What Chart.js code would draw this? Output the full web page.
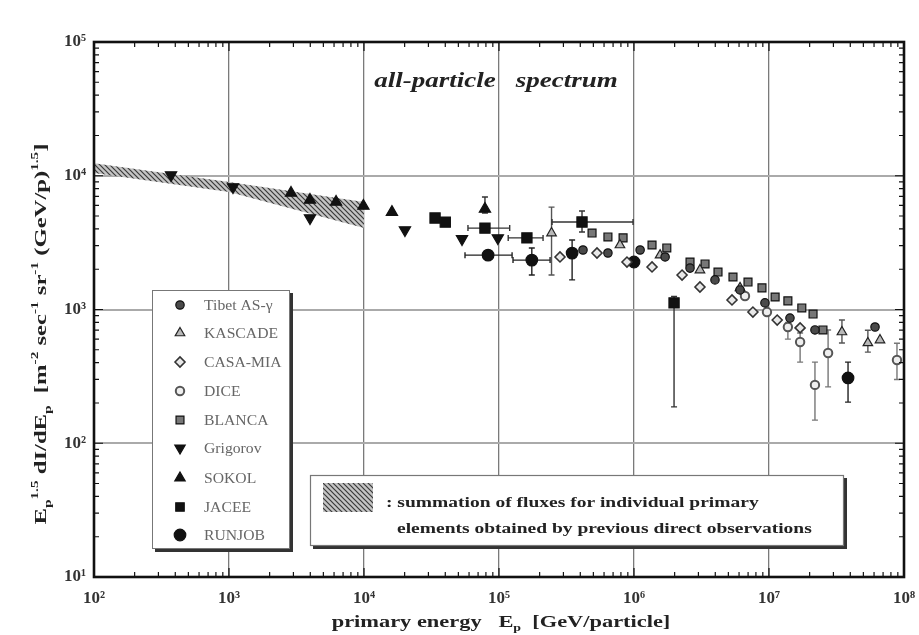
<!DOCTYPE html>
<html>
<head>
<meta charset="utf-8">
<script src="https://cdn.jsdelivr.net/npm/chart.js@4.4.1/dist/chart.umd.min.js"></script>
<style>
html, body { margin: 0; padding: 0; background: #fff; }
#wrap { width: 919px; height: 635px; }
</style>
</head>
<body>
<div id="wrap"><canvas id="chart" width="919" height="635"></canvas></div>
<script>
// Axis ticks
const xTickVals = [1e2, 1e3, 1e4, 1e5, 1e6, 1e7, 1e8];
const yTickVals = [1e1, 1e2, 1e3, 1e4, 1e5];

// Shaded band (sum of direct observations)
const bandE = [100, 1000, 10000];
const bandHi = [12400, 8980, 6370];
const bandLo = [10500, 7570, 4070];

// Tibet AS-gamma
const tibetE = [4.19e5, 6.41e5, 1.11e6, 1.70e6, 2.60e6, 3.98e6, 6.10e6, 9.33e6, 1.43e7, 2.19e7, 6.1e7];
const tibetF = [2785, 2645, 2785, 2470, 2040, 1665, 1400, 1120, 863, 703, 740];

// KASCADE
const kascadeE = [2.45e5, 7.87e5, 1.56e6, 3.08e6, 6.10e6, 3.47e7, 5.4e7, 6.64e7];
const kascadeF = [3730, 3035, 2550, 1972, 1450, 679, 562, 591];
const kascadeFlo = [1810, null, null, null, null, 562, 480, null];
const kascadeFhi = [5830, null, null, null, null, 835, 700, null];

// CASA-MIA
const casaE = [2.83e5, 5.32e5, 8.87e5, 1.36e6, 2.27e6, 3.08e6, 5.32e6, 7.6e6, 1.15e7, 1.7e7];
const casaF = [2470, 2645, 2265, 2080, 1810, 1473, 1178, 957, 834, 728];

// DICE
const diceE = [6.64e6, 9.66e6, 1.38e7, 1.7e7, 2.19e7, 2.74e7, 8.87e7];
const diceF = [1262, 957, 740, 572, 273, 473, 419];
const diceFlo = [null, null, 600, 404, 149, 264, 300];
const diceFhi = [null, null, 800, 667, 404, 703, 560];

// BLANCA
const blancaE = [4.89e5, 6.41e5, 8.3e5, 1.36e6, 1.75e6, 2.6e6, 3.36e6, 4.19e6, 5.41e6, 6.99e6, 8.87e6, 1.11e7, 1.38e7, 1.75e7, 2.12e7, 2.51e7];
const blancaF = [3730, 3485, 3430, 3035, 2885, 2265, 2190, 1905, 1750, 1605, 1450, 1240, 1160, 1027, 925, 703];

// Grigorov
const grigorovE = [372, 1070, 3980, 20100, 53200, 98000];
const grigorovF = [10130, 8240, 4830, 3930, 3370, 3420];

// SOKOL
const sokolE = [2880, 3980, 6210, 9900, 16100, 78700];
const sokolF = [7430, 6590, 6370, 5940, 5350, 5640];
const sokolFlo = [null, null, null, null, null, 5260];
const sokolFhi = [null, null, null, null, null, 6930];

// JACEE
const jaceeE = [33600, 40000, 78700, 161000, 412000, 1.98e6];
const jaceeF = [4830, 4500, 4060, 3430, 4510, 1120];
const jaceeElo = [null, null, 58900, 117000, 247000, null];
const jaceeEhi = [null, null, 120000, 212000, 984000, null];
const jaceeFlo = [null, null, null, null, 3800, 187];
const jaceeFhi = [null, null, null, null, 5450, 1250];

// RUNJOB
const runjobE = [83000, 175000, 348000, 1.0e6, 3.85e7];
const runjobF = [2550, 2340, 2640, 2265, 308];
const runjobElo = [56000, 127000, null, null, null];
const runjobEhi = [125000, 239000, null, null, null];
const runjobFlo = [null, 1810, 1665, null, 203];
const runjobFhi = [null, 2885, 3310, null, 404];

const SERIF = '"Liberation Serif", "DejaVu Serif", serif';
const SUP = '⁰¹²³⁴⁵⁶⁷⁸⁹';

function pts(E, F) {
    return E.map((e, i) => ({ x: e, y: F[i] }));
}

function supLabel(v) {
    const e = Math.round(Math.log10(v));
    return '10' + String(e).split('').map(d => SUP[+d]).join('');
}

// Hatch pattern for the band
function makeHatch() {
    const c = document.createElement('canvas');
    c.width = 5; c.height = 5;
    const g = c.getContext('2d');
    g.fillStyle = '#c4c4c4';
    g.fillRect(0, 0, 5, 5);
    g.strokeStyle = '#3a3a3a';
    g.lineWidth = 1.2;
    g.beginPath();
    g.moveTo(0, 0); g.lineTo(5, 5);
    g.moveTo(-1, 4); g.lineTo(1, 6);
    g.moveTo(4, -1); g.lineTo(6, 1);
    g.stroke();
    return g.createPattern(c, 'repeat');
}
const hatch = makeHatch();

function series(label, E, F, style, err) {
    return Object.assign({
        label: label,
        data: pts(E, F),
        showLine: false,
        pointBorderWidth: 1.2,
        pointHoverRadius: 0,
        err: err || null,
        order: 0
    }, style);
}

const datasets = [
    series('Tibet AS-γ', tibetE, tibetF, { pointStyle: 'circle', pointRadius: 4.2, pointBackgroundColor: '#4a4a4a', pointBorderColor: '#111' }),
    series('KASCADE', kascadeE, kascadeF, { pointStyle: 'triangle', pointRadius: 5.5, pointBackgroundColor: '#b8b8b8', pointBorderColor: '#222' },
        { flo: kascadeFlo, fhi: kascadeFhi, color: '#555' }),
    series('CASA-MIA', casaE, casaF, { pointStyle: 'rectRot', pointRadius: 5, pointBackgroundColor: '#e8e8e8', pointBorderColor: '#333', pointBorderWidth: 1.6 }),
    series('DICE', diceE, diceF, { pointStyle: 'circle', pointRadius: 4.2, pointBackgroundColor: '#eee', pointBorderColor: '#555', pointBorderWidth: 2 },
        { flo: diceFlo, fhi: diceFhi, color: '#777' }),
    series('BLANCA', blancaE, blancaF, { pointStyle: 'rect', pointRadius: 5.6, pointBackgroundColor: '#777', pointBorderColor: '#111' }),
    series('Grigorov', grigorovE, grigorovF, { pointStyle: 'triangle', pointRotation: 180, pointRadius: 6.5, pointBackgroundColor: '#111', pointBorderColor: '#111' }),
    series('SOKOL', sokolE, sokolF, { pointStyle: 'triangle', pointRadius: 6.5, pointBackgroundColor: '#111', pointBorderColor: '#111' },
        { flo: sokolFlo, fhi: sokolFhi, color: '#333' }),
    series('JACEE', jaceeE, jaceeF, { pointStyle: 'rect', pointRadius: 7.2, pointBackgroundColor: '#111', pointBorderColor: '#111' },
        { flo: jaceeFlo, fhi: jaceeFhi, elo: jaceeElo, ehi: jaceeEhi, color: '#333' }),
    series('RUNJOB', runjobE, runjobF, { pointStyle: 'circle', pointRadius: 5.8, pointBackgroundColor: '#111', pointBorderColor: '#111' },
        { flo: runjobFlo, fhi: runjobFhi, elo: runjobElo, ehi: runjobEhi, color: '#222' }),
    {
        label: 'bandHi', data: pts(bandE, bandHi), showLine: true, fill: '+1',
        backgroundColor: hatch, borderWidth: 0, borderColor: 'transparent', pointRadius: 0, order: 10, band: true
    },
    {
        label: 'bandLo', data: pts(bandE, bandLo), showLine: true, fill: false,
        borderWidth: 0, borderColor: 'transparent', pointRadius: 0, order: 10, band: true
    }
];

// Text helper with super/subscripts; sx stretches the text horizontally
function drawRich(ctx, parts, x, y, size, opts) {
    opts = opts || {};
    const style = opts.style || 'bold';
    const sx = opts.sx || 1;
    const font = s => `${style} ${s}px ${SERIF}`;
    let w = 0;
    parts.forEach(([t, k]) => { ctx.font = font(k ? size * 0.62 : size); w += ctx.measureText(t).width; });
    ctx.save();
    ctx.translate(x, y);
    ctx.scale(sx, 1);
    let cx = opts.center ? -w / 2 : 0;
    ctx.textBaseline = 'alphabetic';
    ctx.textAlign = 'left';
    parts.forEach(([t, k]) => {
        const s = k ? size * 0.62 : size;
        ctx.font = font(s);
        const dy = k === 'sup' ? -size * 0.45 : (k === 'sub' ? size * 0.28 : 0);
        ctx.fillText(t, cx, dy);
        cx += ctx.measureText(t).width;
    });
    ctx.restore();
}

const errorBars = {
    id: 'errorBars',
    beforeDatasetsDraw(chart) {
        const { ctx, scales: { x, y } } = chart;
        chart.data.datasets.forEach(ds => {
            if (!ds.err) return;
            const e = ds.err;
            ctx.save();
            ctx.strokeStyle = e.color;
            ctx.lineWidth = 1.4;
            ds.data.forEach((p, j) => {
                const px = x.getPixelForValue(p.x);
                const py = y.getPixelForValue(p.y);
                ctx.beginPath();
                if (e.flo && e.flo[j] != null) {
                    const y1 = y.getPixelForValue(e.flo[j]);
                    const y2 = y.getPixelForValue(e.fhi[j]);
                    ctx.moveTo(px, y1); ctx.lineTo(px, y2);
                    ctx.moveTo(px - 3, y1); ctx.lineTo(px + 3, y1);
                    ctx.moveTo(px - 3, y2); ctx.lineTo(px + 3, y2);
                }
                if (e.elo && e.elo[j] != null) {
                    const x1 = x.getPixelForValue(e.elo[j]);
                    const x2 = x.getPixelForValue(e.ehi[j]);
                    ctx.moveTo(x1, py); ctx.lineTo(x2, py);
                    ctx.moveTo(x1, py - 3); ctx.lineTo(x1, py + 3);
                    ctx.moveTo(x2, py - 3); ctx.lineTo(x2, py + 3);
                }
                ctx.stroke();
            });
            ctx.restore();
        });
    }
};

const decorations = {
    id: 'decorations',
    afterDraw(chart) {
        const { ctx, chartArea: a, scales: { x, y } } = chart;
        ctx.save();

        // inside minor/major ticks on all four sides
        ctx.strokeStyle = '#111';
        ctx.lineWidth = 1.2;
        ctx.beginPath();
        for (let e = 2; e < 8; e++) {
            for (let m = 1; m <= 9; m++) {
                const px = x.getPixelForValue(m * Math.pow(10, e));
                const len = m === 1 ? 9 : 5;
                ctx.moveTo(px, a.bottom); ctx.lineTo(px, a.bottom - len);
                ctx.moveTo(px, a.top); ctx.lineTo(px, a.top + len);
            }
        }
        for (let e = 1; e < 5; e++) {
            for (let m = 1; m <= 9; m++) {
                const py = y.getPixelForValue(m * Math.pow(10, e));
                const len = m === 1 ? 9 : 5;
                ctx.moveTo(a.left, py); ctx.lineTo(a.left + len, py);
                ctx.moveTo(a.right, py); ctx.lineTo(a.right - len, py);
            }
        }
        ctx.stroke();

        // frame
        ctx.lineWidth = 2.6;
        ctx.strokeStyle = '#111';
        ctx.strokeRect(a.left, a.top, a.right - a.left, a.bottom - a.top);

        // title
        ctx.fillStyle = '#222';
        drawRich(ctx, [['all-particle   spectrum', '']], 496, 87, 20, { center: true, style: 'italic bold', sx: 1.35 });

        // x axis title
        drawRich(ctx, [['primary energy   E', ''], ['p', 'sub'], ['  [GeV/particle]', '']], 501, 627, 16, { center: true, sx: 1.4 });

        // y axis title (rotated)
        ctx.save();
        ctx.translate(46, 334);
        ctx.rotate(-Math.PI / 2);
        drawRich(ctx, [
            ['E', ''], ['p', 'sub'], ['1.5', 'sup'], [' dI/dE', ''], ['p', 'sub'],
            ['  [m', ''], ['-2', 'sup'], [' sec', ''], ['-1', 'sup'], [' sr', ''], ['-1', 'sup'],
            [' (GeV/p)', ''], ['1.5', 'sup'], [']', '']
        ], 0, 0, 17, { center: true, sx: 1.45 });
        ctx.restore();

        // legend box of experiments
        const lx = 152, ly = 290, lw = 138, lh = 259;
        ctx.fillStyle = '#333';
        ctx.fillRect(lx + 3, ly + 3, lw, lh);
        ctx.fillStyle = '#fff';
        ctx.fillRect(lx, ly, lw, lh);
        ctx.lineWidth = 1;
        ctx.strokeStyle = '#777';
        ctx.strokeRect(lx + 0.5, ly + 0.5, lw - 1, lh - 1);
        const rowY = [305, 333, 362, 391, 420, 448, 478, 507, 535];
        let row = 0;
        chart.data.datasets.forEach(ds => {
            if (ds.band) return;
            const yy = rowY[row++];
            ctx.fillStyle = ds.pointBackgroundColor;
            ctx.strokeStyle = ds.pointBorderColor;
            ctx.lineWidth = ds.pointBorderWidth;
            Chart.helpers.drawPoint(ctx, {
                pointStyle: ds.pointStyle,
                radius: Math.min(ds.pointRadius, 6),
                rotation: ds.pointRotation || 0,
                borderWidth: ds.pointBorderWidth
            }, 180, yy);
            ctx.fillStyle = '#666';
            drawRich(ctx, [[ds.label, '']], 204, yy + 5, 14, { style: 'normal', sx: 1.12 });
        });

        // legend box of the band
        const bx = 310, by = 475, bw = 534, bh = 71;
        ctx.fillStyle = '#333';
        ctx.fillRect(bx + 3, by + 3, bw, bh);
        ctx.fillStyle = '#fff';
        ctx.fillRect(bx, by, bw, bh);
        ctx.strokeStyle = '#777';
        ctx.strokeRect(bx + 0.5, by + 0.5, bw - 1, bh - 1);
        ctx.fillStyle = hatch;
        ctx.fillRect(323, 483, 50, 29);
        ctx.fillStyle = '#222';
        drawRich(ctx, [[': summation of fluxes for individual primary', '']], 386, 507, 15, { sx: 1.3 });
        drawRich(ctx, [['elements obtained by previous direct observations', '']], 397, 533, 15, { sx: 1.3 });

        ctx.restore();
    }
};

new Chart(document.getElementById('chart'), {
    type: 'line',
    data: { datasets: datasets },
    options: {
        responsive: false,
        animation: false,
        layout: { padding: { top: 42, right: 15, left: 0, bottom: 0 } },
        plugins: {
            legend: { display: false },
            tooltip: { enabled: false },
            title: { display: false }
        },
        scales: {
            x: {
                type: 'logarithmic',
                min: 1e2,
                max: 1e8,
                afterBuildTicks: s => { s.ticks = xTickVals.map(v => ({ value: v })); },
                afterFit: s => { s.height = 58; s.paddingLeft = 0; s.paddingRight = 0; },
                ticks: {
                    autoSkip: false,
                    maxRotation: 0,
                    padding: 11,
                    color: '#333',
                    font: { family: SERIF, size: 17, weight: 'bold' },
                    callback: v => supLabel(v)
                },
                grid: { color: '#7a7a7a', lineWidth: 1.3, drawTicks: false },
                border: { display: false }
            },
            y: {
                type: 'logarithmic',
                min: 1e1,
                max: 1e5,
                afterBuildTicks: s => { s.ticks = yTickVals.map(v => ({ value: v })); },
                afterFit: s => { s.width = 94; s.paddingTop = 0; s.paddingBottom = 0; },
                ticks: {
                    autoSkip: false,
                    padding: 8,
                    color: '#333',
                    font: { family: SERIF, size: 17, weight: 'bold' },
                    callback: v => supLabel(v)
                },
                grid: { color: '#aaa', lineWidth: 2, drawTicks: false },
                border: { display: false }
            }
        }
    },
    plugins: [errorBars, decorations]
});
</script>
</body>
</html>
